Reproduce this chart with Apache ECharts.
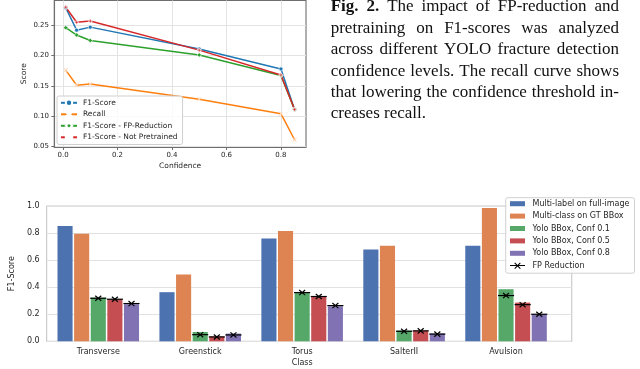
<!DOCTYPE html>
<html>
<head>
<meta charset="utf-8">
<script src="https://cdn.jsdelivr.net/npm/echarts@6/dist/echarts.min.js"></script>
<style>
html,body{margin:0;padding:0;background:#fff;}
#chart{width:640px;height:369px;}
</style>
</head>
<body>
<div id="chart"></div>
<script>
// ---------- Top chart data (score vs confidence) ----------
const confidence = [0.01, 0.05, 0.1, 0.5, 0.8, 0.85];
const f1Score = [0.279, 0.242, 0.247, 0.211, 0.178, 0.111];
const recall = [0.176, 0.151, 0.153, 0.128, 0.104, 0.061];
const f1FPReduction = [0.246, 0.234, 0.225, 0.201, 0.167, 0.111];
const f1NotPretrained = [0.280, 0.255, 0.257, 0.209, 0.168, 0.111];
const topXTicks = [0.0, 0.2, 0.4, 0.6, 0.8];
const topYTicks = [0.05, 0.10, 0.15, 0.20, 0.25];

// ---------- Bottom chart data (F1 per class) ----------
const classes = ['Transverse', 'Greenstick', 'Torus', 'SalterII', 'Avulsion'];
const multiLabel = [0.852, 0.363, 0.760, 0.679, 0.706];
const multiClass = [0.795, 0.494, 0.815, 0.706, 0.985];
const yoloConf01 = [0.323, 0.069, 0.358, 0.080, 0.385];
const yoloConf05 = [0.311, 0.037, 0.331, 0.080, 0.286];
const yoloConf08 = [0.274, 0.057, 0.259, 0.058, 0.200];
const fpConf01 = [0.318, 0.049, 0.360, 0.074, 0.338];
const fpConf05 = [0.311, 0.032, 0.331, 0.077, 0.271];
const fpConf08 = [0.279, 0.047, 0.264, 0.053, 0.200];
const bottomYTicks = [0, 0.2, 0.4, 0.6, 0.8, 1.0];

// ---------- Caption ----------
const captionLines = [
  'Fig. 2. The impact of FP-reduction and',
  'pretraining on F1-scores was analyzed',
  'across different YOLO fracture detection',
  'confidence levels. The recall curve shows',
  'that lowering the confidence threshold in-',
  'creases recall.'
];
const captionBoldWords = 2;

// ---------- styling ----------
const SANS = '"DejaVu Sans", sans-serif';
const SERIF = '"Liberation Serif", "Times New Roman", serif';
const TEXT = '#262626';
const tab = ['#1f77b4', '#ff7f0e', '#2ca02c', '#d62728'];
const deep = ['#4c72b0', '#dd8452', '#55a868', '#c44e52', '#8172b3'];
const BAR_GAP = 0.1, CAT_GAP = 0.2, NBARS = 5;

const chart = echarts.init(document.getElementById('chart'), null, {renderer: 'canvas'});

function pairs(xs, ys) { return xs.map((x, i) => [x, ys[i]]); }

const xMark = 'path://M1 0L5 4L9 0L10 1L6 5L10 9L9 10L5 6L1 10L0 9L4 5L0 1Z';
const plusMark = 'path://M3.5 0H6.5V3.5H10V6.5H6.5V10H3.5V6.5H0V3.5H3.5Z';

function lineSeries(name, ys, color, symbol, size) {
  return {
    type: 'line', name, xAxisIndex: 0, yAxisIndex: 0,
    data: pairs(confidence, ys),
    symbol, symbolSize: size, showSymbol: true,
    lineStyle: {color, width: 1.5},
    itemStyle: {color, borderColor: '#fff', borderWidth: 0.6},
    emphasis: {disabled: true}, z: 3
  };
}

function barSeries(name, ys, color) {
  return {
    type: 'bar', name, xAxisIndex: 2, yAxisIndex: 2,
    data: ys, barGap: (BAR_GAP * 100) + '%', barCategoryGap: (CAT_GAP * 100) + '%',
    itemStyle: {color}, emphasis: {disabled: true}
  };
}

// FP reduction markers: built from fp arrays, bar slot index 2..4
const fpData = [];
[fpConf01, fpConf05, fpConf08].forEach((arr, j) => {
  arr.forEach((v, i) => fpData.push([i, v, j + 2]));
});

const fpSeries = {
  type: 'custom', name: 'FP Reduction', xAxisIndex: 2, yAxisIndex: 2,
  data: fpData, z: 10,
  itemStyle: {color: '#000'},
  renderItem: function (params, api) {
    const ci = api.value(0), v = api.value(1), k = api.value(2);
    const pt = api.coord([ci, v]);
    const band = api.size([1, 0])[0];
    const w = band * (1 - CAT_GAP) / (NBARS + (NBARS - 1) * BAR_GAP);
    const total = band * (1 - CAT_GAP);
    const cx = pt[0] - total / 2 + k * w * (1 + BAR_GAP) + w / 2;
    const y = pt[1];
    const s = 3;
    const st = {stroke: '#000', lineWidth: 1.2, fill: null};
    return {
      type: 'group',
      children: [
        {type: 'line', shape: {x1: cx - w / 2 - 0.5, y1: y, x2: cx + w / 2 + 0.5, y2: y}, style: st},
        {type: 'line', shape: {x1: cx - s, y1: y - s * 0.85, x2: cx + s, y2: y + s * 0.85}, style: st},
        {type: 'line', shape: {x1: cx - s, y1: y + s * 0.85, x2: cx + s, y2: y - s * 0.85}, style: st}
      ]
    };
  }
};

// caption graphic: justified words
const measCtx = document.createElement('canvas').getContext('2d');
const CAP_SIZE = 17;
function capFont(bold) { return (bold ? 'bold ' : '') + CAP_SIZE + 'px ' + SERIF; }
function measure(t, bold) { measCtx.font = capFont(bold); return measCtx.measureText(t).width; }
const capLeft = 330.7, capRight = 619, capBase0 = 12, capLead = 21.4;
const captionGraphics = [];
captionLines.forEach((line, li) => {
  const words = line.split(' ');
  const bolds = words.map((w, wi) => li === 0 && wi < captionBoldWords);
  const widths = words.map((w, wi) => measure(w, bolds[wi]));
  const sum = widths.reduce((a, b) => a + b, 0);
  const last = li === captionLines.length - 1;
  const gap = last ? measure(' ', false) : (capRight - capLeft - sum) / (words.length - 1);
  let x = capLeft;
  const yMid = capBase0 + li * capLead - CAP_SIZE * 0.3;
  words.forEach((w, wi) => {
    captionGraphics.push({
      type: 'text', x: x, y: yMid, silent: true,
      style: {text: w, font: capFont(bolds[wi]), fill: '#111', align: 'left', verticalAlign: 'middle'}
    });
    x += widths[wi] + gap;
  });
});

const barIcon = 'path://M0 0H15V5H0Z';
const fpIcon = 'path://M0 4H16V5.2H0Z M4.6 2.2L5.4 1.4L11.4 7.4L10.6 8.2Z M10.6 1.4L11.4 2.2L5.4 8.2L4.6 7.4Z';

const option = {
  animation: false,
  backgroundColor: '#fff',
  textStyle: {fontFamily: SANS},
  grid: [
    {left: 54.3, top: 0.5, width: 251.7, height: 146.5, show: true, borderColor: '#6e6e6e', borderWidth: 1.1, backgroundColor: 'transparent'},
    {left: 32.3, top: 206, width: 539.4, height: 135.3, show: true, borderColor: '#cccccc', borderWidth: 1.2, backgroundColor: 'transparent'},
    {left: 47.3, top: 206, width: 509.7, height: 135.3}
  ],
  xAxis: [
    {
      type: 'value', gridIndex: 0, min: -0.032, max: 0.892, splitNumber: 5,
      name: 'Confidence', nameLocation: 'middle', nameGap: 15,
      nameTextStyle: {fontSize: 7.5, color: TEXT, fontFamily: SANS},
      axisLine: {show: true, onZero: false, lineStyle: {color: '#6e6e6e', width: 1.1}},
      axisTick: {show: true, length: 3, customValues: topXTicks, lineStyle: {color: '#6e6e6e'}},
      axisLabel: {show: true, customValues: topXTicks, margin: 4.5, fontSize: 7, color: TEXT, fontFamily: SANS,
        formatter: v => v.toFixed(1), showMinLabel: true, showMaxLabel: true},
      splitLine: {show: true, lineStyle: {color: '#e3e3e3', width: 1}}
    },
    {
      type: 'value', gridIndex: 1, min: 0, max: 1, show: false
    },
    {
      type: 'category', gridIndex: 2, data: classes,
      name: 'Class', nameLocation: 'middle', nameGap: 18,
      nameTextStyle: {fontSize: 8, color: TEXT, fontFamily: SANS},
      axisLine: {show: false}, axisTick: {show: false},
      axisLabel: {margin: 6.4, fontSize: 8, color: TEXT, fontFamily: SANS, interval: 0}
    }
  ],
  yAxis: [
    {
      type: 'value', gridIndex: 0, min: 0.049, max: 0.291, splitNumber: 5,
      name: 'Score', nameLocation: 'middle', nameGap: 26, nameRotate: 90,
      nameTextStyle: {fontSize: 7.5, color: TEXT, fontFamily: SANS},
      axisLine: {show: true, onZero: false, lineStyle: {color: '#6e6e6e', width: 1.1}},
      axisTick: {show: true, length: 3, customValues: topYTicks, lineStyle: {color: '#6e6e6e'}},
      axisLabel: {show: true, customValues: topYTicks, margin: 5.3, fontSize: 7, color: TEXT, fontFamily: SANS,
        formatter: v => v.toFixed(2), showMinLabel: true, showMaxLabel: true},
      splitLine: {show: true, lineStyle: {color: '#e3e3e3', width: 1}}
    },
    {
      type: 'value', gridIndex: 1, min: 0, max: 1, interval: 0.2,
      name: 'F1-Score', nameLocation: 'middle', nameGap: 23, nameRotate: 90,
      nameTextStyle: {fontSize: 8, color: TEXT, fontFamily: SANS},
      axisLine: {show: false}, axisTick: {show: false},
      axisLabel: {customValues: bottomYTicks, margin: 7, fontSize: 8, color: TEXT, fontFamily: SANS, formatter: v => v.toFixed(1)},
      splitLine: {show: true, lineStyle: {color: '#e2e2e2', width: 1}}
    },
    {
      type: 'value', gridIndex: 2, min: 0, max: 1, show: false, splitLine: {show: false}
    }
  ],
  legend: [
    {
      data: ['F1-Score', 'Recall', 'F1-Score - FP-Reduction', 'F1-Score - Not Pretrained'],
      orient: 'vertical', left: 57, top: 96, itemWidth: 16, itemHeight: 8, itemGap: 3.1,
      padding: [2.6, 5, 3, 3], selectedMode: false,
      backgroundColor: 'rgba(255,255,255,0.8)', borderColor: '#d0d0d0', borderWidth: 1, borderRadius: 2,
      textStyle: {fontSize: 7.5, color: TEXT, fontFamily: SANS, padding: [0, 0, 0, 1]}
    },
    {
      data: [
        {name: 'Multi-label on full-image', icon: barIcon},
        {name: 'Multi-class on GT BBox', icon: barIcon},
        {name: 'Yolo BBox, Conf 0.1', icon: barIcon},
        {name: 'Yolo BBox, Conf 0.5', icon: barIcon},
        {name: 'Yolo BBox, Conf 0.8', icon: barIcon},
        {name: 'FP Reduction', icon: fpIcon}
      ],
      orient: 'vertical', left: 505.7, top: 197.7, itemWidth: 15, itemHeight: 9, itemGap: 4.4,
      padding: [2, 5, 3.5, 4.3], selectedMode: false,
      backgroundColor: 'rgba(255,255,255,0.85)', borderColor: '#d0d0d0', borderWidth: 1, borderRadius: 2,
      textStyle: {fontSize: 8, color: TEXT, fontFamily: SANS, padding: [0, 0, 0, 2.5]}
    }
  ],
  series: [
    lineSeries('F1-Score', f1Score, tab[0], 'circle', 4),
    lineSeries('Recall', recall, tab[1], xMark, 4),
    lineSeries('F1-Score - FP-Reduction', f1FPReduction, tab[2], 'diamond', 4.5),
    lineSeries('F1-Score - Not Pretrained', f1NotPretrained, tab[3], plusMark, 4),
    barSeries('Multi-label on full-image', multiLabel, deep[0]),
    barSeries('Multi-class on GT BBox', multiClass, deep[1]),
    barSeries('Yolo BBox, Conf 0.1', yoloConf01, deep[2]),
    barSeries('Yolo BBox, Conf 0.5', yoloConf05, deep[3]),
    barSeries('Yolo BBox, Conf 0.8', yoloConf08, deep[4]),
    fpSeries
  ],
  graphic: captionGraphics
};

chart.setOption(option);
</script>
</body>
</html>
